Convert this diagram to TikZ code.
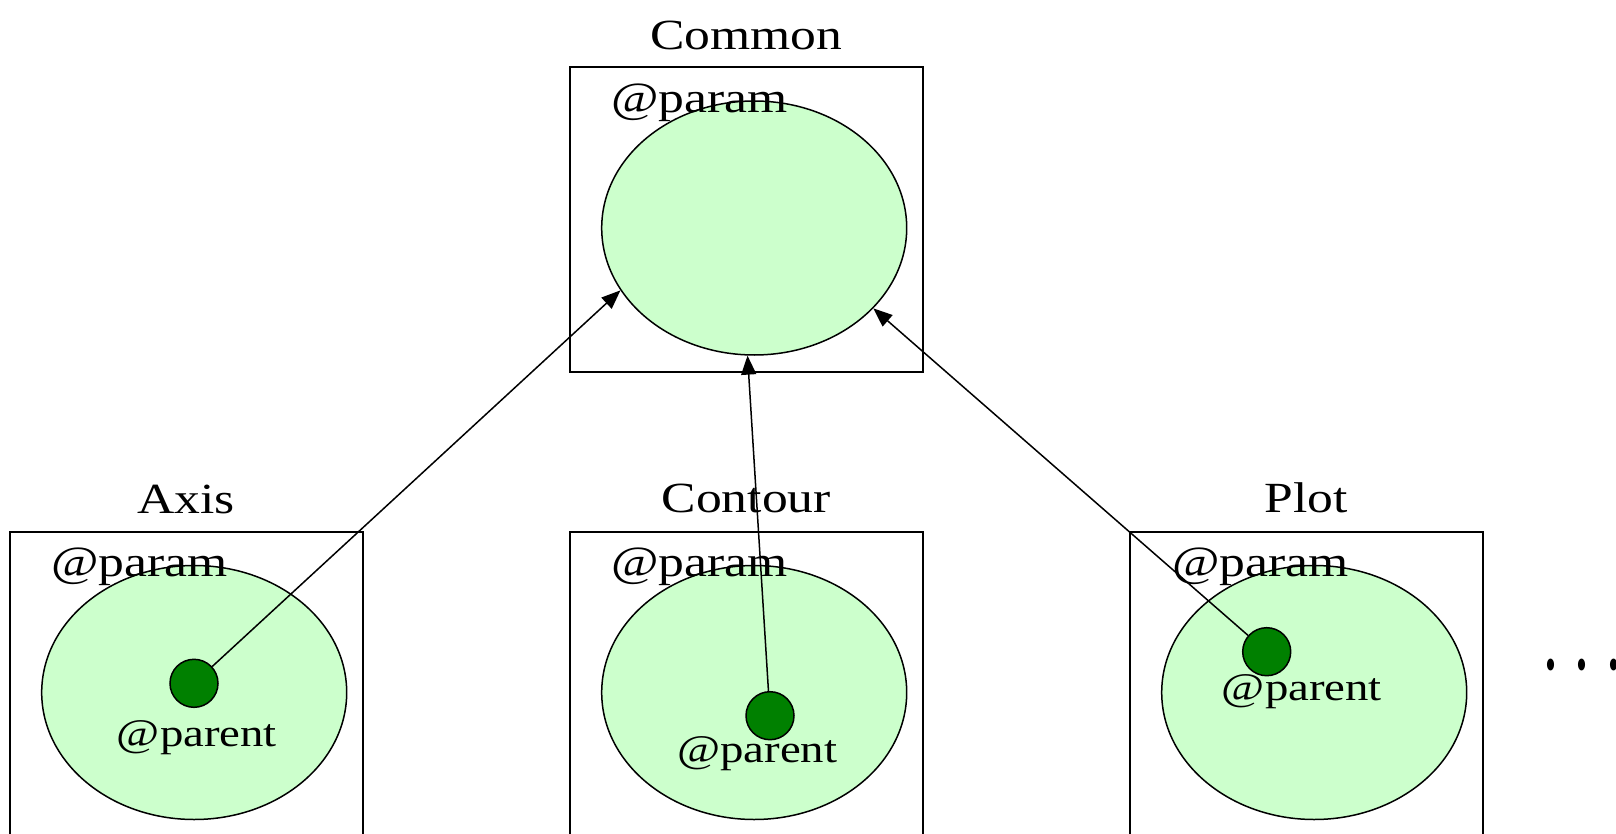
\documentclass[tikz,border=0pt]{standalone}
\usepackage{fontspec}
\setmainfont[FakeStretch=1.2]{Liberation Serif}
\usetikzlibrary{shapes.geometric,arrows.meta}
\definecolor{paramfill}{RGB}{204,255,204}
\definecolor{parentfill}{RGB}{0,128,0}
\tikzset{
  classbox/.style={draw,line width=2pt,minimum width=352.7pt,minimum height=304.4pt,inner sep=0pt},
  paramset/.style={ellipse,draw,line width=1.5pt,fill=paramfill,minimum width=305pt,minimum height=254pt,inner sep=0pt},
  parentdot/.style={circle,draw,line width=1.5pt,fill=parentfill,minimum size=48pt,inner sep=0pt},
  title/.style={anchor=base,inner sep=0pt,font=\fontsize{43}{50}\selectfont},
  paramlbl/.style={anchor=base west,inner sep=0pt,font=\fontsize{43}{50}\selectfont},
  parentlbl/.style={anchor=base west,inner sep=0pt,font=\fontsize{39}{46}\selectfont},
  link/.style={line width=1.5pt,-{Triangle[length=19pt,width=15pt]}}
}
\begin{document}
\begin{tikzpicture}[x=1pt,y=1pt]
  \useasboundingbox (0,0) rectangle (1616,-834);

  % Common
  \node[title] (commonTitle) at (746.3,-50) {Common};
  \node[classbox] (commonBox) at (746.3,-219.5) {};
  \node[paramset] (commonPar) at (754.2,-228) {};
  \node[paramlbl] (commonParLbl) at (611,-113) {@param};

  % Axis
  \node[title] (axisTitle) at (186.3,-513) {Axis};
  \node[classbox] (axisBox) at (186.3,-683.9) {};
  \node[paramset] (axisPar) at (194.2,-692.5) {};
  \node[paramlbl] (axisParLbl) at (51,-576.7) {@param};
  \node[parentdot] (axisDot) at (194,-683.3) {};
  \node[parentlbl] (axisParent) at (116.7,-746.7) {@parent};

  % Contour
  \node[title] (contourTitle) at (746.3,-512) {Contour};
  \node[classbox] (contourBox) at (746.3,-683.9) {};
  \node[paramset] (contourPar) at (754.2,-692.5) {};
  \node[paramlbl] (contourParLbl) at (611,-576.7) {@param};
  \node[parentdot] (contourDot) at (770,-715.7) {};
  \node[parentlbl] (contourParent) at (677,-762.7) {@parent};

  % Plot
  \node[title] (plotTitle) at (1306.3,-512) {Plot};
  \node[classbox] (plotBox) at (1306.3,-683.9) {};
  \node[paramset] (plotPar) at (1314.2,-692.5) {};
  \node[paramlbl] (plotParLbl) at (1172,-576.7) {@param};
  \node[parentdot] (plotDot) at (1266.7,-651.7) {};
  \node[parentlbl] (plotParent) at (1221.7,-700) {@parent};

  % weitere Klassen
  \node[anchor=base west,inner sep=0pt] (moreDots) at (1543,-669)
    {\scalebox{0.5}[1]{\fontsize{100}{100}\selectfont .\hspace{33pt}.\hspace{33pt}.}};

  % @parent -> Common
  \draw[link] (axisDot) -- (commonPar.205.7);
  \draw[link] (contourDot) -- (commonPar.267.4);
  \draw[link] (plotDot) -- (commonPar.326.4);
\end{tikzpicture}
\end{document}
